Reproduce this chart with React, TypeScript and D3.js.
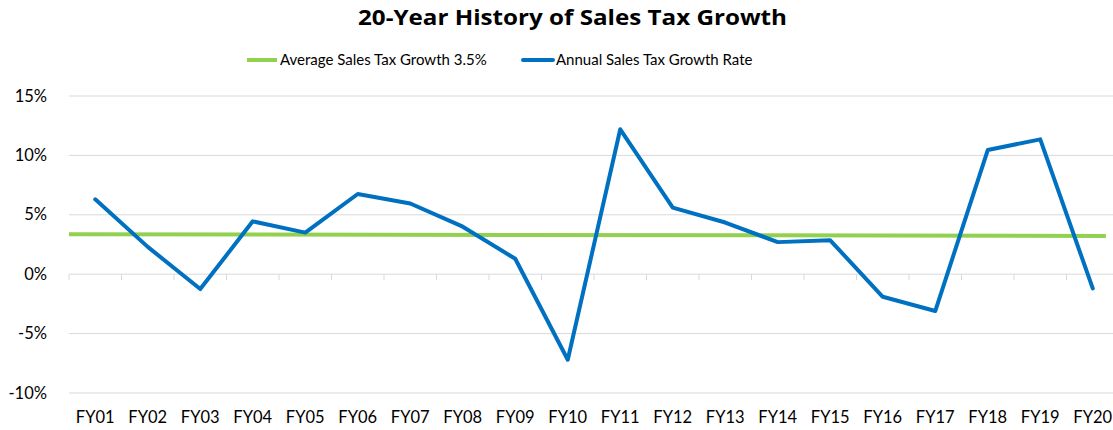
import React from "react";
import * as d3 from "d3";

const categories = ["FY01","FY02","FY03","FY04","FY05","FY06","FY07","FY08","FY09","FY10","FY11","FY12","FY13","FY14","FY15","FY16","FY17","FY18","FY19","FY20"];
const annualGrowth = [6.3, 2.3, -1.25, 4.45, 3.5, 6.75, 5.95, 4.0, 1.3, -7.2, 12.2, 5.6, 4.35, 2.7, 2.85, -1.9, -3.1, 10.45, 11.35, -1.2];
const averageGrowthEnds = [3.37, 3.22];
const yTicks = [-10, -5, 0, 5, 10, 15];
const title = "20-Year History of Sales Tax Growth";
const legendLabels = ["Average Sales Tax Growth 3.5%", "Annual Sales Tax Growth Rate"];

const W = 1113, H = 430;
const margin = { left: 69, right: -6, top: 96, bottom: 37 };
const FONT = "Lato, 'Open Sans', sans-serif";
const BLUE = "#0070C0";
const GREEN = "#92D050";

export default function App() {
  const x = d3.scaleBand().domain(categories).range([margin.left, W - margin.right]).padding(0);
  const y = d3.scaleLinear().domain([-10, 15]).range([H - margin.bottom, margin.top]);
  const line = d3.line<number>()
    .x((_, i) => (x(categories[i]) as number) + x.bandwidth() / 2)
    .y((d) => y(d));
  const avgX0 = margin.left;
  const avgX1 = (x(categories[19]) as number) + x.bandwidth() * 0.75;
  const boundaries = d3.range(categories.length + 1).map((i) => margin.left + i * x.bandwidth());

  return (
    <svg width={W} height={H} style={{ position: "absolute", left: 0, top: 0, background: "#fff" }}>
      <text x={572.5} y={25} textAnchor="middle" fontFamily="'Open Sans', sans-serif" fontWeight={700} fontSize={22} textLength={429} lengthAdjust="spacingAndGlyphs" fill="#000">{title}</text>
      {/* legend */}
      <line x1={247} x2={277} y1={60} y2={60} stroke={GREEN} strokeWidth={4} />
      <text x={280} y={65} fontFamily={FONT} fontSize={15} fill="#000">{legendLabels[0]}</text>
      <line x1={523} x2={553} y1={60} y2={60} stroke={BLUE} strokeWidth={4} strokeLinecap="round" />
      <text x={556} y={65} fontFamily={FONT} fontSize={15} fill="#000">{legendLabels[1]}</text>
      {/* gridlines */}
      {yTicks.map((t) => (
        <g key={t}>
          <line x1={margin.left} x2={W} y1={y(t)} y2={y(t)} stroke="#d9d9d9" strokeWidth={1} />
          <text x={47} y={y(t) + 5.5} textAnchor="end" fontFamily={FONT} fontSize={16.5} fill="#000">{t}%</text>
        </g>
      ))}
      {/* category ticks on 0 axis */}
      {boundaries.map((bx, i) => (
        <line key={i} x1={bx} x2={bx} y1={y(0)} y2={y(0) + 6} stroke="#d9d9d9" strokeWidth={1} />
      ))}
      {categories.map((c) => (
        <text key={c} x={(x(c) as number) + x.bandwidth() / 2} y={423} textAnchor="middle" fontFamily={FONT} fontSize={16.5} fill="#000">{c}</text>
      ))}
      {/* average line */}
      <line x1={avgX0} x2={avgX1} y1={y(averageGrowthEnds[0])} y2={y(averageGrowthEnds[1])} stroke={GREEN} strokeWidth={4} />
      {/* annual line */}
      <path d={line(annualGrowth) || ""} fill="none" stroke={BLUE} strokeWidth={4} strokeLinejoin="round" strokeLinecap="round" />
    </svg>
  );
}
